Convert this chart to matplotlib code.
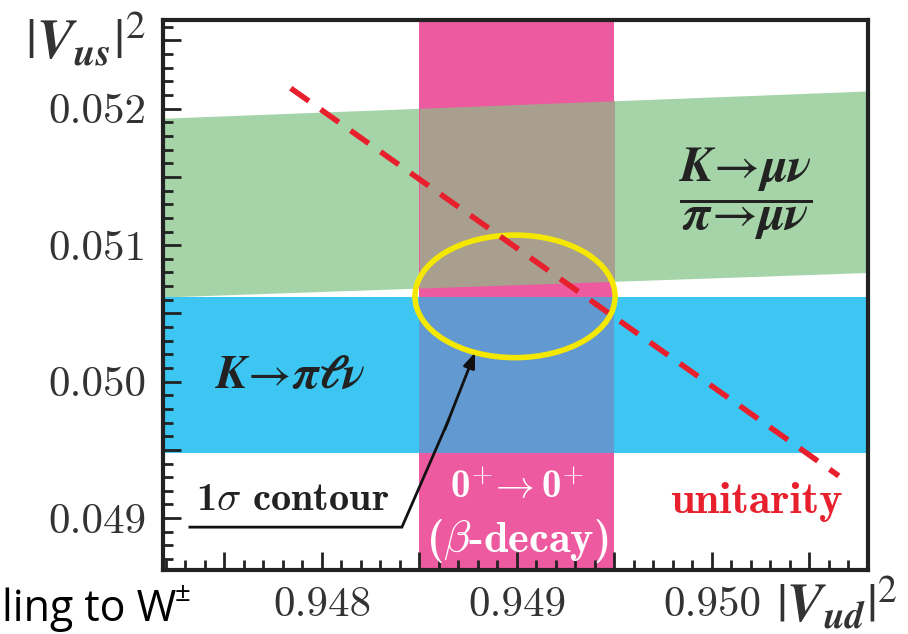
import numpy as np
import matplotlib.pyplot as plt
from matplotlib.patches import Ellipse, Rectangle
from matplotlib.ticker import MultipleLocator

plt.rcParams['font.family'] = 'cmr10'
plt.rcParams['axes.formatter.use_mathtext'] = True
plt.rcParams['mathtext.fontset'] = 'cm'

# data
beta_vud = [0.9485, 0.9495]                 # 0+ -> 0+ band in |Vud|^2
kl3_vus = [0.04948, 0.05062]                # K -> pi l nu band in |Vus|^2
kmu_x = [0.94718, 0.95080]                  # K->mu nu / pi->mu nu band (slanted)
kmu_lo = [0.05062, 0.05080]
kmu_hi = [0.05193, 0.05213]
fit_center = (0.94899, 0.050625)            # 1 sigma contour
fit_halfwidth = (0.000513, 0.000449)
unit_x = [0.94784, 0.95065]                 # unitarity line
unit_y = [0.05215, 0.04931]

xticks = [0.948, 0.949, 0.950]
xticklabels = ['0.948', '0.949', '0.950']
yticks = [0.049, 0.050, 0.051, 0.052]
yticklabels = ['0.049', '0.050', '0.051', '0.052']

green = '#a5d4a8'
blue = '#3dc6f2'
pink = '#ee5aa0'
grey = '#a89f8e'
bluepink = '#6299d0'
yellow = '#f5e800'
red = '#e8202e'

fig = plt.figure(figsize=(9.08, 6.34), dpi=100)
ax = fig.add_axes([163/908, 1-570/634, 705/908, 550/634])
ax.set_xlim(0.947185, 0.9508)
ax.set_ylim(0.04862, 0.05265)

# bands
ax.fill_between(kmu_x, kmu_lo, kmu_hi, color=green, lw=0, zorder=1)
ax.axhspan(kl3_vus[0], kl3_vus[1], color=blue, lw=0, zorder=1)
ax.axvspan(beta_vud[0], beta_vud[1], color=pink, lw=0, zorder=2)

# overlaps
xp = np.array(beta_vud)
ax.fill_between(xp, np.interp(xp, kmu_x, kmu_lo), np.interp(xp, kmu_x, kmu_hi),
                color=grey, lw=0, zorder=3)
ax.add_patch(Rectangle((beta_vud[0], kl3_vus[0]), beta_vud[1]-beta_vud[0],
                       kl3_vus[1]-kl3_vus[0], color=bluepink, lw=0, zorder=3))

# 1 sigma contour
ax.add_patch(Ellipse(fit_center, 2*fit_halfwidth[0], 2*fit_halfwidth[1],
                     fill=False, ec=yellow, lw=4, zorder=4))

# unitarity
ax.plot(unit_x, unit_y, color=red, lw=4, dashes=(4, 2.6), zorder=5)

# arrow to contour
ax.plot([0.947323, 0.94841, 0.94865], [0.048934, 0.048934, 0.04972],
        color='#111111', lw=2, zorder=6, solid_joinstyle='miter')
ax.annotate('', xy=(0.948785, 0.050213), xytext=(0.94863, 0.04965),
            arrowprops=dict(arrowstyle='-|>,head_length=0.9,head_width=0.35',
                            color='#111111', lw=2, shrinkA=0, shrinkB=0), zorder=6)

# labels inside
ax.text(0.947835, 0.05004, r'$\mathbfit{K}\!\rightarrow\!\mathbfit{\pi\ell\nu}$',
        fontsize=34, math_fontfamily='stix', ha='center', va='center', color='#222222', zorder=7)
ax.text(0.95017, 0.05138,
        r'$\dfrac{\mathbfit{K}\!\rightarrow\!\mathbfit{\mu\nu}}{\mathbfit{\pi}\!\rightarrow\!\mathbfit{\mu\nu}}$',
        fontsize=36, math_fontfamily='stix', ha='center', va='center', color='#222222', zorder=7)
ax.text(0.94785, 0.04913, r'1$\sigma$ contour', family='cmb10', fontsize=29,
        ha='center', va='center', color='#222222', zorder=7, math_fontfamily='cm')
ax.text(0.94900, 0.04922, r'0${}^{+}\!\rightarrow$0${}^{+}$', family='cmb10', fontsize=28,
        ha='center', va='center', color='white', zorder=7, math_fontfamily='cm')
ax.text(0.94900, 0.04883, r'($\beta$-decay)', family='cmb10', fontsize=32,
        ha='center', va='center', color='white', zorder=7, math_fontfamily='cm')
ax.text(0.95023, 0.04912, 'unitarity', family='cmb10', fontsize=32,
        ha='center', va='center', color=red, zorder=7)

# axes styling
for s in ax.spines.values():
    s.set_linewidth(3)
    s.set_color('#222222')
    s.set_zorder(10)
ax.xaxis.set_major_locator(MultipleLocator(0.0005))
ax.xaxis.set_minor_locator(MultipleLocator(0.0001))
ax.yaxis.set_major_locator(MultipleLocator(0.0005))
ax.yaxis.set_minor_locator(MultipleLocator(0.0001))
ax.xaxis.set_major_formatter(plt.FuncFormatter(
    lambda v, p: xticklabels[xticks.index(round(v, 4))] if round(v, 4) in xticks else ''))
ax.yaxis.set_major_formatter(plt.FuncFormatter(
    lambda v, p: yticklabels[yticks.index(round(v, 4))] if round(v, 4) in yticks else ''))
ax.tick_params(which='both', direction='in', top=False, right=False,
               color='#222222', labelsize=31, labelcolor='#333333')
ax.tick_params(which='major', length=13, width=2, pad=12)
ax.tick_params(which='minor', length=7, width=2)
ax.set_axisbelow(False)

# axis titles
fig.text(25/908, 1-40/634, r'$|\mathbfit{V}_{\mathbfit{us}}|^2$', fontsize=40,
         math_fontfamily='stix', ha='left', va='center', color='#333333')
fig.text(776/908, 1-603/634, r'$|\mathbfit{V}_{\mathbfit{ud}}|^2$', fontsize=39,
         math_fontfamily='stix', ha='left', va='center', color='#333333')

# cropped slide text
fig.text(2/908, 1-621/634, 'ling to W', family='Open Sans', fontsize=31,
         ha='left', va='baseline', color='black')
fig.text(175/908, 1-601/634, '\u00b1', family='Open Sans', fontsize=20,
         ha='left', va='baseline', color='black')

fig.savefig('out.png', dpi=100)
